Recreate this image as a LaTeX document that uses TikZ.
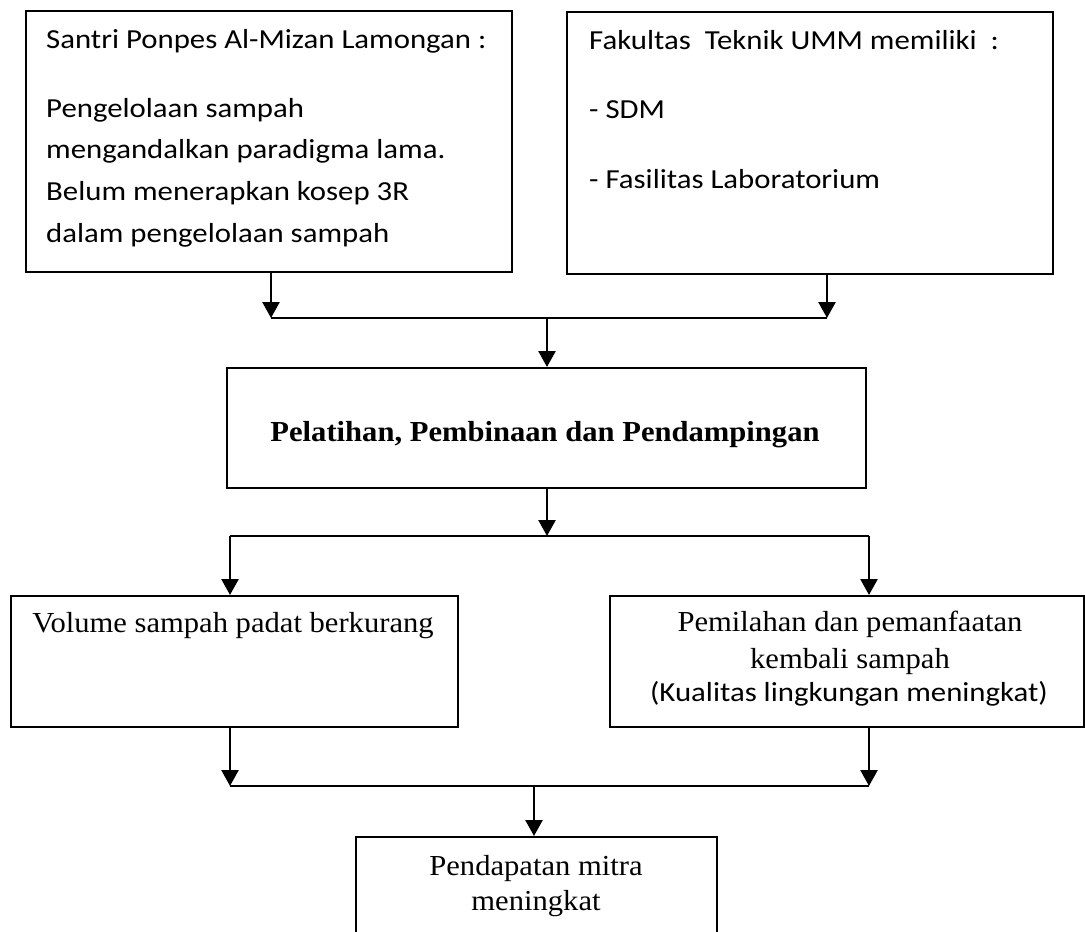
\documentclass[tikz,border=0pt]{standalone}
\usepackage{fontspec}
\setmainfont{Liberation Serif}
\newfontfamily\carlito{Carlito}
\usetikzlibrary{arrows.meta}
\newcommand{\widesans}[1]{\scalebox{1.12}[1]{#1}}
\newcommand{\wideserif}[1]{\scalebox{1.055}[1]{#1}}

\begin{document}
\begin{tikzpicture}[x=1pt,y=-1pt,> = {Triangle[length=16pt,width=17pt]},
		box/.style={draw, line width=1.8pt, inner sep=0pt, anchor=north west},
		arr/.style={->, line width=2.6pt},
		bar/.style={line width=2pt},
		sanstxt/.style={font=\carlito\fontsize{27.5}{33}\selectfont, inner sep=0pt},
		seriftxt/.style={font=\fontsize{29}{35}\selectfont, inner sep=0pt}]
			\useasboundingbox (0,0) rectangle (1085,932);
			\clip (0,0) rectangle (1085,932);

			% Boxes
			\node[box, minimum width=486pt, minimum height=261pt] (santri) at (25,10) {};
			\node[box, minimum width=486pt, minimum height=262pt] (fakultas) at (566,11) {};
			\node[box, minimum width=639pt, minimum height=120pt] (pelatihan) at (226,367) {};
			\node[box, minimum width=447pt, minimum height=131pt] (volume) at (10,595) {};
			\node[box, minimum width=474pt, minimum height=131pt] (pemilahan) at (609,595) {};
			\node[box, minimum width=361pt, minimum height=150pt] (pendapatan) at (355,836) {};

			% Texts
			\foreach \txt/\yy [count=\i] in {{Santri Ponpes Al-Mizan Lamongan :}/48, {Pengelolaan sampah}/117,
					{mengandalkan paradigma lama.}/158, {Belum menerapkan kosep 3R}/200, {dalam pengelolaan sampah}/242}
				\node[sanstxt, anchor=base west] (santri-\i) at (46,\yy) {\widesans{\txt}};
			\foreach \txt/\yy [count=\i] in {{Fakultas\ \ Teknik UMM memiliki\ \ :}/49, {- SDM}/118, {- Fasilitas Laboratorium}/188}
				\node[sanstxt, anchor=base west] (fakultas-\i) at (589,\yy) {\widesans{\txt}};
			\node[seriftxt, anchor=base, font=\bfseries\fontsize{29}{35}\selectfont] (pelatihan-1) at (545,441)
				{\wideserif{Pelatihan, Pembinaan dan Pendampingan}};
			\node[seriftxt, anchor=base] (volume-1) at (233,632) {\wideserif{Volume sampah padat berkurang}};
			\node[seriftxt, anchor=base] (pemilahan-1) at (850,631) {\wideserif{Pemilahan dan pemanfaatan}};
			\node[seriftxt, anchor=base] (pemilahan-2) at (850,668) {\wideserif{kembali sampah}};
			\node[sanstxt, anchor=base] (pemilahan-3) at (849,701) {\widesans{(Kualitas lingkungan meningkat)}};
			\node[seriftxt, anchor=base] (pendapatan-1) at (536,875) {\wideserif{Pendapatan mitra}};
			\node[seriftxt, anchor=base] (pendapatan-2) at (536,910) {\wideserif{meningkat}};

			% Junctions
			\coordinate (t-l) at (271,318);
			\coordinate (t-r) at (827,318);
			\coordinate (t-m) at (547,318);
			\coordinate (m-l) at (230,536);
			\coordinate (m-r) at (869,536);
			\coordinate (m-m) at (547,536);
			\coordinate (b-l) at (230,786);
			\coordinate (b-r) at (869,786);
			\coordinate (b-m) at (534,786);

			% Connectors
			\draw[arr] (santri.south -| t-l) -- (t-l);
			\draw[arr] (fakultas.south -| t-r) -- (t-r);
			\draw[bar] (t-l) -- (t-r);
			\draw[arr] (t-m) -- (pelatihan.north -| t-m);
			\draw[arr] (pelatihan.south -| m-m) -- (m-m);
			\draw[bar] (m-l) -- (m-r);
			\draw[arr] (m-l) -- (volume.north -| m-l);
			\draw[arr] (m-r) -- (pemilahan.north -| m-r);
			\draw[arr] (volume.south -| b-l) -- (b-l);
			\draw[arr] (pemilahan.south -| b-r) -- (b-r);
			\draw[bar] (b-l) -- (b-r);
			\draw[arr] (b-m) -- (pendapatan.north -| b-m);
		\end{tikzpicture}
\end{document}
